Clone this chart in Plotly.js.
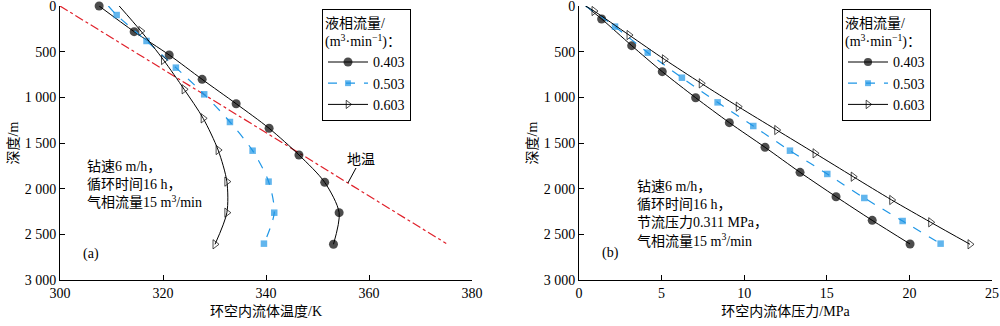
<!DOCTYPE html>
<html><head><meta charset="utf-8">
<script src="https://cdn.plot.ly/plotly-3.0.1.min.js"></script>
<style>html,body{margin:0;padding:0;background:#fff}</style>
</head><body><div id="chart" style="width:1000px;height:326px"></div>
<script>
// ---- data ----
const seriesNames = ['0.403', '0.503', '0.603'];
// (a) temperature profile
const depthA403 = [0, 281, 536, 803, 1070, 1339, 1631, 1931, 2263, 2609];
const tempA403  = [307.6, 314.4, 321.2, 327.6, 334.2, 340.6, 346.4, 351.4, 354.2, 353.1];
const depthA503 = [0, 99, 383, 675, 967, 1270, 1584, 1923, 2263, 2602];
const tempA503  = [309.4, 311.0, 316.8, 322.5, 328.0, 333.0, 337.4, 340.5, 341.6, 339.6];
const depthA603 = [0, 274, 591, 912, 1230, 1577, 1923, 2263, 2609];
const tempA603  = [311.5, 315.7, 320.1, 324.1, 327.8, 330.7, 332.4, 332.4, 330.1];
const geoDepth  = [0, 2600];
const geoTemp   = [300, 375];
// (b) pressure profile
const depthB403 = [0, 142, 434, 719, 1004, 1277, 1547, 1821, 2088, 2347, 2606];
const presB403  = [0.4, 1.37, 3.19, 5.04, 7.06, 9.10, 11.26, 13.38, 15.56, 17.75, 20.04];
const depthB503 = [0, 226, 511, 785, 1055, 1314, 1584, 1839, 2102, 2354, 2602];
const presB503  = [0.4, 2.18, 4.16, 6.23, 8.39, 10.55, 12.77, 15.03, 17.27, 19.59, 21.89];
const depthB603 = [0, 55, 318, 584, 847, 1102, 1358, 1613, 1869, 2124, 2368, 2609];
const presB603  = [0.4, 0.91, 3.03, 5.17, 7.40, 9.64, 11.97, 14.29, 16.6, 18.93, 21.29, 23.67];
// ticks
const depthTicks = [0, 500, 1000, 1500, 2000, 2500, 3000];
const depthTickText = ['0', '500', '1 000', '1 500', '2 000', '2 500', '3 000'];
const tempTicks = [300, 320, 340, 360, 380];
const presTicks = [0, 5, 10, 15, 20, 25];

// ---- styling ----
const FONT = "'Liberation Serif', 'Noto Sans CJK SC', serif";
const BLUE = '#1e96e6';
const RED = '#e0202a';
const styles = [
  {line:{color:'#000', width:1, dash:'solid'}, sym:'circle', size:9, mcolor:'#000', mline:{color:'#000', width:0}},
  {line:{color:BLUE, width:1.2, dash:'dash'}, sym:'square', size:6.5, mcolor:BLUE, mline:{color:BLUE, width:0}},
  {line:{color:'#000', width:1, dash:'solid'}, sym:'triangle-right-open', size:8, mcolor:'#000', mline:{color:'#000', width:1}}
];
function sizes(n, s, hideFirst){ return Array.from({length:n}, (_, i) => (hideFirst && i === 0) ? 0 : s); }
function mk(x, y, k, xa, ya, leg, hideFirst){
  const st = styles[k];
  return {x:x, y:y, xaxis:xa, yaxis:ya, legend:leg, name:seriesNames[k], type:'scatter', mode:'lines+markers',
    line:Object.assign({shape:'spline', smoothing:0.8}, st.line),
    marker:{symbol:st.sym, size:sizes(x.length, st.size, hideFirst), color:st.mcolor, line:st.mline},
    cliponaxis:false};
}
const traces = [
  {x:geoTemp, y:geoDepth, xaxis:'x', yaxis:'y', mode:'lines', showlegend:false, name:'地温',
   line:{color:RED, width:1.2, dash:'dashdot'}},
  mk(tempA403, depthA403, 0, 'x', 'y', 'legend', false),
  mk(tempA503, depthA503, 1, 'x', 'y', 'legend', true),
  mk(tempA603, depthA603, 2, 'x', 'y', 'legend', true),
  mk(presB403, depthB403, 0, 'x2', 'y2', 'legend2', true),
  mk(presB503, depthB503, 1, 'x2', 'y2', 'legend2', true),
  mk(presB603, depthB603, 2, 'x2', 'y2', 'legend2', true)
];

const yDom = [1 - 280/326, 1 - 6/326];
function xAxis(dom, range, ticks, title, anchor){
  return {domain:dom, range:range, tickvals:ticks, anchor:anchor, showline:true, linecolor:'#000', linewidth:1,
    ticks:'inside', ticklen:5, tickcolor:'#000', showgrid:false, zeroline:false, automargin:false,
    ticklabeloverflow:'allow',
    tickfont:{family:FONT, size:14, color:'#000'},
    title:{text:title, font:{family:FONT, size:14, color:'#000'}, standoff:6}};
}
function yAxis(anchor){
  return {domain:yDom, range:[3000, 0], tickvals:depthTicks, ticktext:depthTickText, anchor:anchor,
    showline:true, linecolor:'#000', linewidth:1, ticks:'inside', ticklen:5, tickcolor:'#000',
    showgrid:false, zeroline:false, automargin:false, ticklabeloverflow:'allow',
    tickfont:{family:FONT, size:14, color:'#000'},
    title:{text:'深度/m', font:{family:FONT, size:14, color:'#000'}, standoff:2}};
}
const legendTitle = '液相流量/<br>(m<sup>3</sup>·min<sup>−1</sup>)：';
function legend(x){
  return {x:x, y:1 - 9/326, xanchor:'left', yanchor:'top', xref:'paper', yref:'paper',
    bgcolor:'#fff', bordercolor:'#000', borderwidth:1, itemwidth:40, tracegroupgap:0,
    font:{family:FONT, size:14, color:'#000'},
    title:{text:legendTitle, font:{family:FONT, size:14, color:'#000'}}};
}
const annFont = {family:FONT, size:14, color:'#000'};
const layout = {
  width:1000, height:326, margin:{l:0, r:0, t:0, b:0}, paper_bgcolor:'#fff', plot_bgcolor:'rgba(0,0,0,0)',
  font:{family:FONT, size:14, color:'#000'},
  xaxis:xAxis([0.060, 0.472], [300, 380], tempTicks, '环空内流体温度/K', 'y'),
  yaxis:yAxis('x'),
  xaxis2:xAxis([0.579, 0.992], [0, 25], presTicks, '环空内流体压力/MPa', 'y2'),
  yaxis2:yAxis('x2'),
  legend:legend(0.322),
  legend2:legend(0.842),
  annotations:[
    {xref:'x', yref:'y', x:304.9, y:1650, xanchor:'left', yanchor:'top', align:'left', showarrow:false,
     text:'钻速6 m/h，<br>循环时间16 h，<br>气相流量15 m<sup>3</sup>/min', font:annFont},
    {xref:'x', yref:'y', x:306.0, y:2715, showarrow:false, text:'(a)', font:annFont},
    {xref:'x', yref:'y', x:355.9, y:1938, ax:13, ay:-24, showarrow:true, arrowhead:0, arrowwidth:1,
     arrowcolor:'#000', text:'地温', font:annFont},
    {xref:'x2', yref:'y2', x:3.39, y:1870, xanchor:'left', yanchor:'top', align:'left', showarrow:false,
     text:'钻速6 m/h，<br>循环时间16 h，<br>节流压力0.311 MPa，<br>气相流量15 m<sup>3</sup>/min', font:annFont},
    {xref:'x2', yref:'y2', x:1.88, y:2704, showarrow:false, text:'(b)', font:annFont}
  ]
};
Plotly.newPlot('chart', traces, layout, {displayModeBar:false, staticPlot:true});
</script></body></html>
